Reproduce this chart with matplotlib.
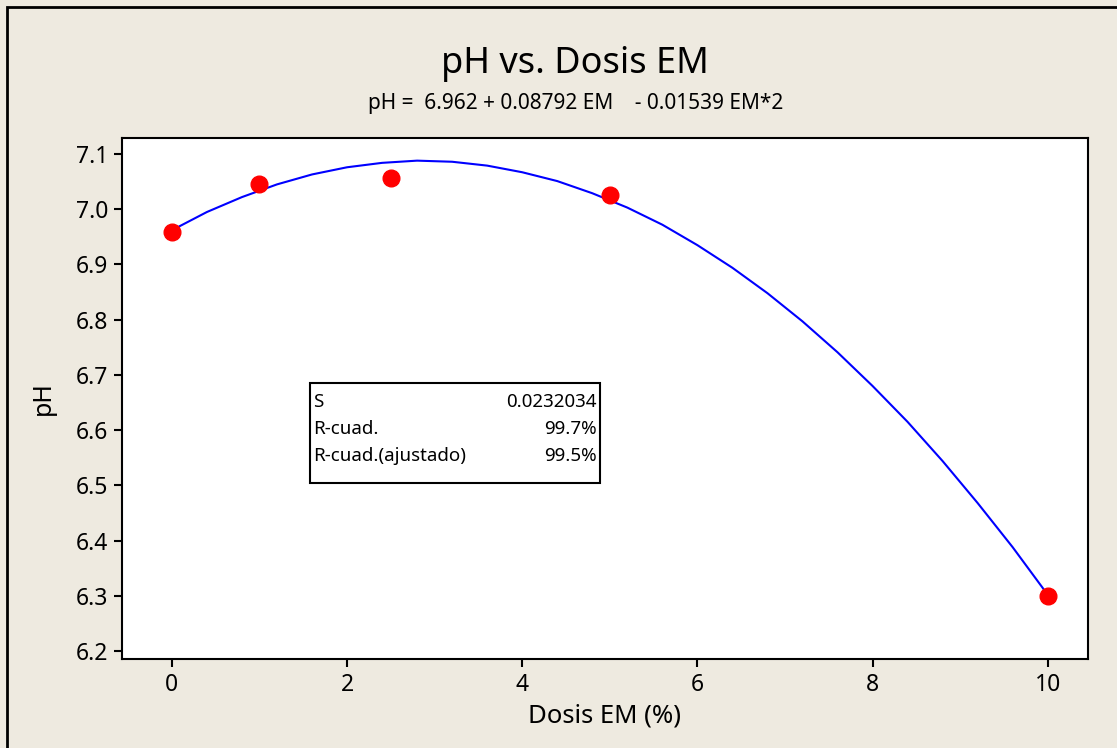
import numpy as np
import matplotlib.pyplot as plt
from matplotlib.patches import Rectangle

# datos observados
dosis = [0, 1, 2.5, 5, 10]
ph = [6.958, 7.046, 7.057, 7.025, 6.300]

# curva ajustada (vertices cada 0.4)
curva_x = [0, 0.4, 0.8, 1.2, 1.6, 2.0, 2.4, 2.8, 3.2, 3.6, 4.0, 4.4, 4.8,
           5.2, 5.6, 6.0, 6.4, 6.8, 7.2, 7.6, 8.0, 8.4, 8.8, 9.2, 9.6, 10]
curva_y = [6.962, 6.995, 7.022, 7.045, 7.063, 7.076, 7.084, 7.088, 7.086,
           7.079, 7.067, 7.051, 7.029, 7.003, 6.972, 6.935, 6.894, 6.848,
           6.797, 6.741, 6.680, 6.615, 6.544, 6.468, 6.388, 6.302]

xticks = [0, 2, 4, 6, 8, 10]
yticks = [6.2, 6.3, 6.4, 6.5, 6.6, 6.7, 6.8, 6.9, 7.0, 7.1]

stats_nombres = ["S", "R-cuad.", "R-cuad.(ajustado)"]
stats_valores = ["0.0232034", "99.7%", "99.5%"]

plt.rcParams['font.family'] = ['Noto Sans', 'DejaVu Sans']
fondo = '#EEEAE0'

fig = plt.figure(figsize=(11.17, 7.48), dpi=100, facecolor=fondo)
# borde de la ventana (solo arriba e izquierda visibles)
fig.patches.append(Rectangle((7/1117, -0.1), 1.2, 1.1 - 7/748,
                             transform=fig.transFigure, fill=False,
                             edgecolor='black', linewidth=2, zorder=0))

ax = fig.add_axes([0.1092, 0.119, 0.8648, 0.6965])
ax.set_facecolor('white')

ax.plot(curva_x, curva_y, color='#0000FF', linewidth=1.5, zorder=2)
ax.plot(dosis, ph, 'o', color='#FF0000', markersize=12, zorder=3)

ax.set_xlim(-0.57, 10.46)
ax.set_ylim(6.1855, 7.129)
ax.set_xticks(xticks)
ax.set_yticks(yticks)
ax.set_yticklabels([f"{v:.1f}" for v in yticks])
ax.tick_params(direction='out', length=6, width=1.5, labelsize=16.5, pad=4)
for s in ax.spines.values():
    s.set_linewidth(1.5)

ax.set_xlabel("Dosis EM (%)", fontsize=18.5, labelpad=5)
ax.set_ylabel("pH", fontsize=18, labelpad=14)

fig.text(0.515, 0.915, "pH vs. Dosis EM", ha='center', va='center', fontsize=26)
fig.text(0.515, 0.862, "pH =  6.962 + 0.08792 EM    - 0.01539 EM*2",
         ha='center', va='center', fontsize=15)

# cuadro de estadisticas
ax.add_patch(Rectangle((0.1946, 0.3378), 0.3002, 0.192, transform=ax.transAxes,
                       fill=True, facecolor='white', edgecolor='black',
                       linewidth=1.5, zorder=4))
filas_y = [0.494, 0.442, 0.390]
for nombre, valor, yy in zip(stats_nombres, stats_valores, filas_y):
    ax.text(0.1975, yy, nombre, transform=ax.transAxes, ha='left', va='center',
            fontsize=13.5, zorder=5)
    ax.text(0.4918, yy, valor, transform=ax.transAxes, ha='right', va='center',
            fontsize=13.5, zorder=5)

fig.savefig("out.png", dpi=100, facecolor=fondo)
